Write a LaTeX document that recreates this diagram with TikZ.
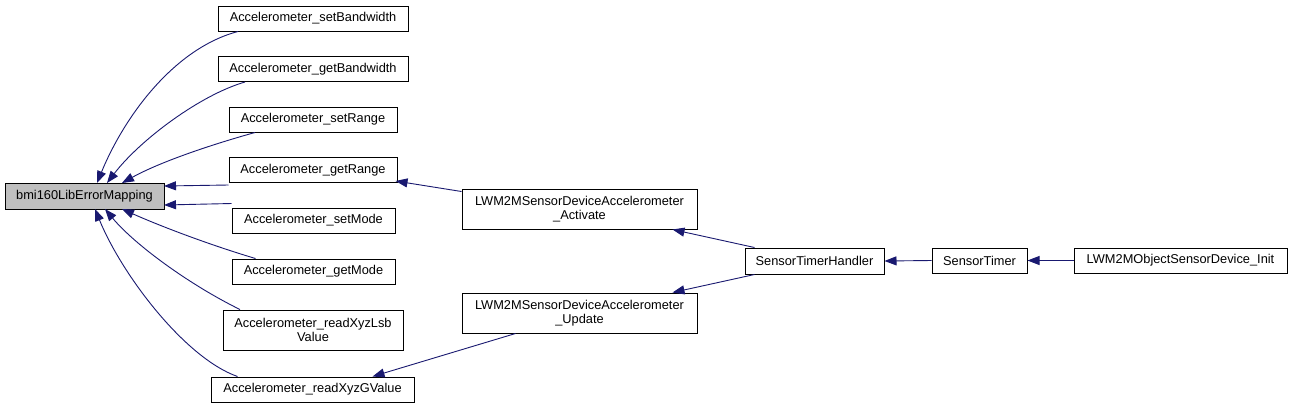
\documentclass[tikz,border=0pt]{standalone}
\usepackage{fontspec}
\setmainfont{Liberation Sans}
\usetikzlibrary{arrows.meta}
\definecolor{edgeblue}{HTML}{191970}
\begin{document}
\begin{tikzpicture}[x=1pt,y=-1pt,
  box/.style={draw=black,line width=1pt,fill=white,inner sep=0pt,align=center,
    font=\fontsize{12.8}{14.5}\selectfont},
  edge/.style={draw=edgeblue,line width=0.9pt,-{Triangle[length=12pt,width=9pt]}}]
\path[use as bounding box,fill=white] (0,0) rectangle (1292,408);
% nodes
\node[box,fill={rgb,255:red,191;green,191;blue,191},minimum width=159pt,minimum height=26pt] (bmi) at (84.5,196) {bmi160LibErrorMapping};
\node[box,minimum width=190pt,minimum height=25pt] (sbw) at (313,18.5) {Accelerometer\_setBandwidth};
\node[box,minimum width=190pt,minimum height=25pt] (gbw) at (313,69) {Accelerometer\_getBandwidth};
\node[box,minimum width=168pt,minimum height=25pt] (sr) at (313,119.5) {Accelerometer\_setRange};
\node[box,minimum width=168pt,minimum height=25pt] (gr) at (313,170) {Accelerometer\_getRange};
\node[box,minimum width=163pt,minimum height=25pt] (sm) at (313.5,220.5) {Accelerometer\_setMode};
\node[box,minimum width=163pt,minimum height=25pt] (gm) at (313.5,271.5) {Accelerometer\_getMode};
\node[box,minimum width=180pt,minimum height=40pt] (lsb) at (313,330) {Accelerometer\_readXyzLsb\\Value};
\node[box,minimum width=203pt,minimum height=25pt] (gv) at (312.5,389.5) {Accelerometer\_readXyzGValue};
\node[box,minimum width=235pt,minimum height=40pt] (act) at (579.5,209) {LWM2MSensorDeviceAccelerometer\\\_Activate};
\node[box,minimum width=235pt,minimum height=40pt] (upd) at (579.5,313) {LWM2MSensorDeviceAccelerometer\\\_Update};
\node[box,minimum width=139pt,minimum height=26pt] (sth) at (814.5,261) {SensorTimerHandler};
\node[box,minimum width=95pt,minimum height=25pt] (st) at (979.5,260.5) {SensorTimer};
\node[box,minimum width=213pt,minimum height=25pt] (init) at (1180.5,260.5) {LWM2MObjectSensorDevice\_Init};
% anchor coordinates on bmi160
\coordinate (b1) at (97,183);
\coordinate (b2) at (107,183);
\coordinate (b3) at (122,183);
\coordinate (b4) at (164,186);
\coordinate (b5) at (164,205);
\coordinate (b6) at (122,209);
\coordinate (b7) at (105,209);
\coordinate (b8) at (95,209);
% edges to bmi160
\draw[edge] ([xshift=-75pt]sbw.south) .. controls (175,48) and (125,115) .. (b1);
\draw[edge] ([xshift=-68pt]gbw.south) .. controls (200,95) and (140,140) .. (b2);
\draw[edge] ([xshift=-58pt]sr.south) .. controls (210,145) and (160,162) .. (b3);
\draw[edge] ([yshift=-2pt]gr.south west) -- (b4);
\draw[edge] ([yshift=4pt]sm.north west) -- (b5);
\draw[edge] ([xshift=-58pt]gm.north) .. controls (210,245) and (160,226) .. (b6);
\draw[edge] ([xshift=-73pt]lsb.north) .. controls (190,285) and (135,245) .. (b7);
\draw[edge] ([xshift=-75pt]gv.north) .. controls (185,358) and (122,275) .. (b8);
% other edges
\draw[edge] ([yshift=-3pt]act.north west) -- ([xshift=-2pt,yshift=2pt]gr.south east);
\draw[edge] ([xshift=-64pt]upd.south) -- ([xshift=60pt]gv.north);
\draw[edge] ([xshift=-60pt]sth.north) -- ([xshift=93pt]act.south);
\draw[edge] ([xshift=-60pt]sth.south) -- ([xshift=93pt]upd.north);
\draw[edge] (st.west) -- (sth.east);
\draw[edge] (init.west) -- (st.east);
\end{tikzpicture}
\end{document}
